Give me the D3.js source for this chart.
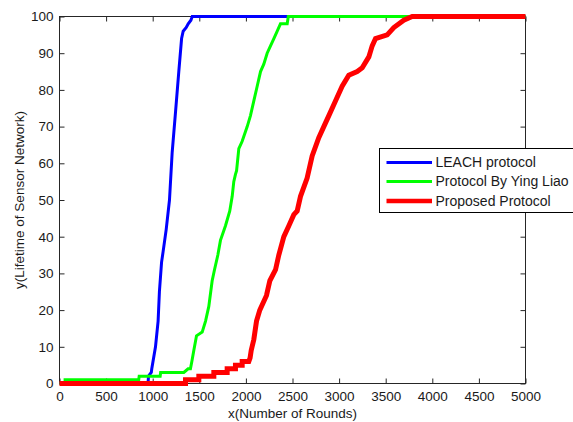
<!DOCTYPE html>
<html>
<head>
<meta charset="utf-8">
<script src="https://cdn.jsdelivr.net/npm/d3@7"></script>
<style>
  html, body { margin: 0; padding: 0; background: #fff; }
  svg { display: block; font-family: "Liberation Sans", Arial, sans-serif; }
</style>
</head>
<body>
<svg id="chart" width="573" height="422"></svg>
<script>
// ---- data (rounds, percentage of dead nodes) ----
const xTicks = [0, 500, 1000, 1500, 2000, 2500, 3000, 3500, 4000, 4500, 5000];
const yTicks = [0, 10, 20, 30, 40, 50, 60, 70, 80, 90, 100];
const seriesNames = ["LEACH protocol", "Protocol By Ying Liao", "Proposed Protocol"];

const leach = [[0,0],[950,0],[955,2],[985,3],[990,4],[1030,10],[1058,17],[1072,25],[1095,33],[1112,36],[1145,42],[1180,50],[1209,63],[1245,74],[1280,85],[1310,94],[1327,96],[1360,97],[1381,98],[1410,99],[1424,100],[5000,100]];

const yingLiao = [[0,0],[60,0],[60,1],[850,1],[855,2],[1080,2],[1085,3],[1334,3],[1380,4],[1405,4],[1420,6],[1441,9],[1470,13],[1531,14],[1567,17],[1602,21],[1638,28],[1663,31],[1699,35],[1727,39],[1781,43],[1827,47],[1853,51],[1870,55],[1888,57],[1900,58],[1924,64],[1960,66],[2014,70],[2049,73],[2085,77],[2121,81],[2157,85],[2192,87],[2228,90],[2264,92],[2300,94],[2336,96],[2371,98],[2443,98],[2455,100],[5000,100]];

const proposed = [[0,0],[1352,0],[1352,1],[1495,1],[1495,2],[1656,2],[1656,3],[1799,3],[1799,4],[1888,4],[1888,5],[1960,5],[1960,6],[2031,6],[2045,7],[2057,9],[2085,12],[2114,17],[2149,20],[2221,24],[2257,28],[2318,31],[2353,35],[2407,40],[2461,43],[2514,46],[2550,47],[2586,51],[2657,56],[2711,62],[2782,67],[2836,70],[2890,73],[2961,77],[3033,81],[3104,84],[3194,85],[3248,86],[3319,89],[3355,92],[3391,94],[3516,95],[3587,97],[3694,99],[3784,100],[5000,100]];

const seriesData = [leach, yingLiao, proposed];
const seriesColors = ["#0000ff", "#00ff00", "#ff0000"];
const seriesWidths = [3, 3, 5];

// ---- layout ----
const svg = d3.select("#chart");
const L = 59.5, R = 525.5, T = 16.5, B = 383.5;
const x = d3.scaleLinear().domain([0, 5000]).range([L, R]);
const y = d3.scaleLinear().domain([0, 100]).range([B, T]);
const fontSize = "13.5px";
const textColor = "#1a1a1a";
const tickLen = 5;

// axes box and ticks
const axes = svg.append("g");
axes.append("rect").attr("x", L).attr("y", T).attr("width", R - L).attr("height", B - T)
  .attr("fill", "none").attr("stroke", "#262626").attr("stroke-width", 1);

const xb = axes.append("g").attr("transform", `translate(0,${B})`)
  .call(d3.axisBottom(x).tickValues(xTicks).tickSizeInner(-tickLen).tickSizeOuter(0).tickPadding(8).tickFormat(d3.format("d")));
const xt = axes.append("g").attr("transform", `translate(0,${T})`)
  .call(d3.axisTop(x).tickValues(xTicks).tickSizeInner(-tickLen).tickSizeOuter(0).tickFormat(""));
const yl = axes.append("g").attr("transform", `translate(${L},0)`)
  .call(d3.axisLeft(y).tickValues(yTicks).tickSizeInner(-tickLen).tickSizeOuter(0).tickPadding(6).tickFormat(d3.format("d")));
const yr = axes.append("g").attr("transform", `translate(${R},0)`)
  .call(d3.axisRight(y).tickValues(yTicks).tickSizeInner(-tickLen).tickSizeOuter(0).tickFormat(""));

[xb, xt, yl, yr].forEach(g => {
  g.select(".domain").remove();
  g.selectAll(".tick line").attr("stroke", "#262626");
  g.selectAll(".tick text").attr("fill", textColor).style("font-size", fontSize)
    .style("font-family", '"Liberation Sans", Arial, sans-serif');
});

// axis labels
svg.append("text").attr("x", (L + R) / 2).attr("y", 418).attr("text-anchor", "middle")
  .attr("fill", textColor).style("font-size", fontSize).text("x(Number of Rounds)");
svg.append("text").attr("transform", `translate(24,${(T + B) / 2}) rotate(-90)`)
  .attr("text-anchor", "middle").attr("fill", textColor).style("font-size", fontSize)
  .text("y(Lifetime of Sensor Network)");

// lines
const line = d3.line().x(d => x(d[0])).y(d => y(d[1]));
seriesData.forEach((data, i) => {
  svg.append("path").datum(data).attr("d", line).attr("fill", "none")
    .attr("stroke", seriesColors[i]).attr("stroke-width", seriesWidths[i])
    .attr("stroke-linejoin", "miter").attr("stroke-linecap", "butt");
});

// legend
const lg = svg.append("g");
lg.append("rect").attr("x", 379.5).attr("y", 148.5).attr("width", 200).attr("height", 64)
  .attr("fill", "#fff").attr("stroke", "#000").attr("stroke-width", 1);
const rowsY = [162.5, 181.5, 201];
seriesNames.forEach((name, i) => {
  lg.append("line").attr("x1", 386.5).attr("x2", 432).attr("y1", rowsY[i]).attr("y2", rowsY[i])
    .attr("stroke", seriesColors[i]).attr("stroke-width", seriesWidths[i] === 5 ? 4.5 : 3);
  lg.append("text").attr("x", 435.5).attr("y", rowsY[i]).attr("dy", "0.35em")
    .attr("fill", textColor).style("font-size", "14px").text(name);
});
</script>
</body>
</html>
